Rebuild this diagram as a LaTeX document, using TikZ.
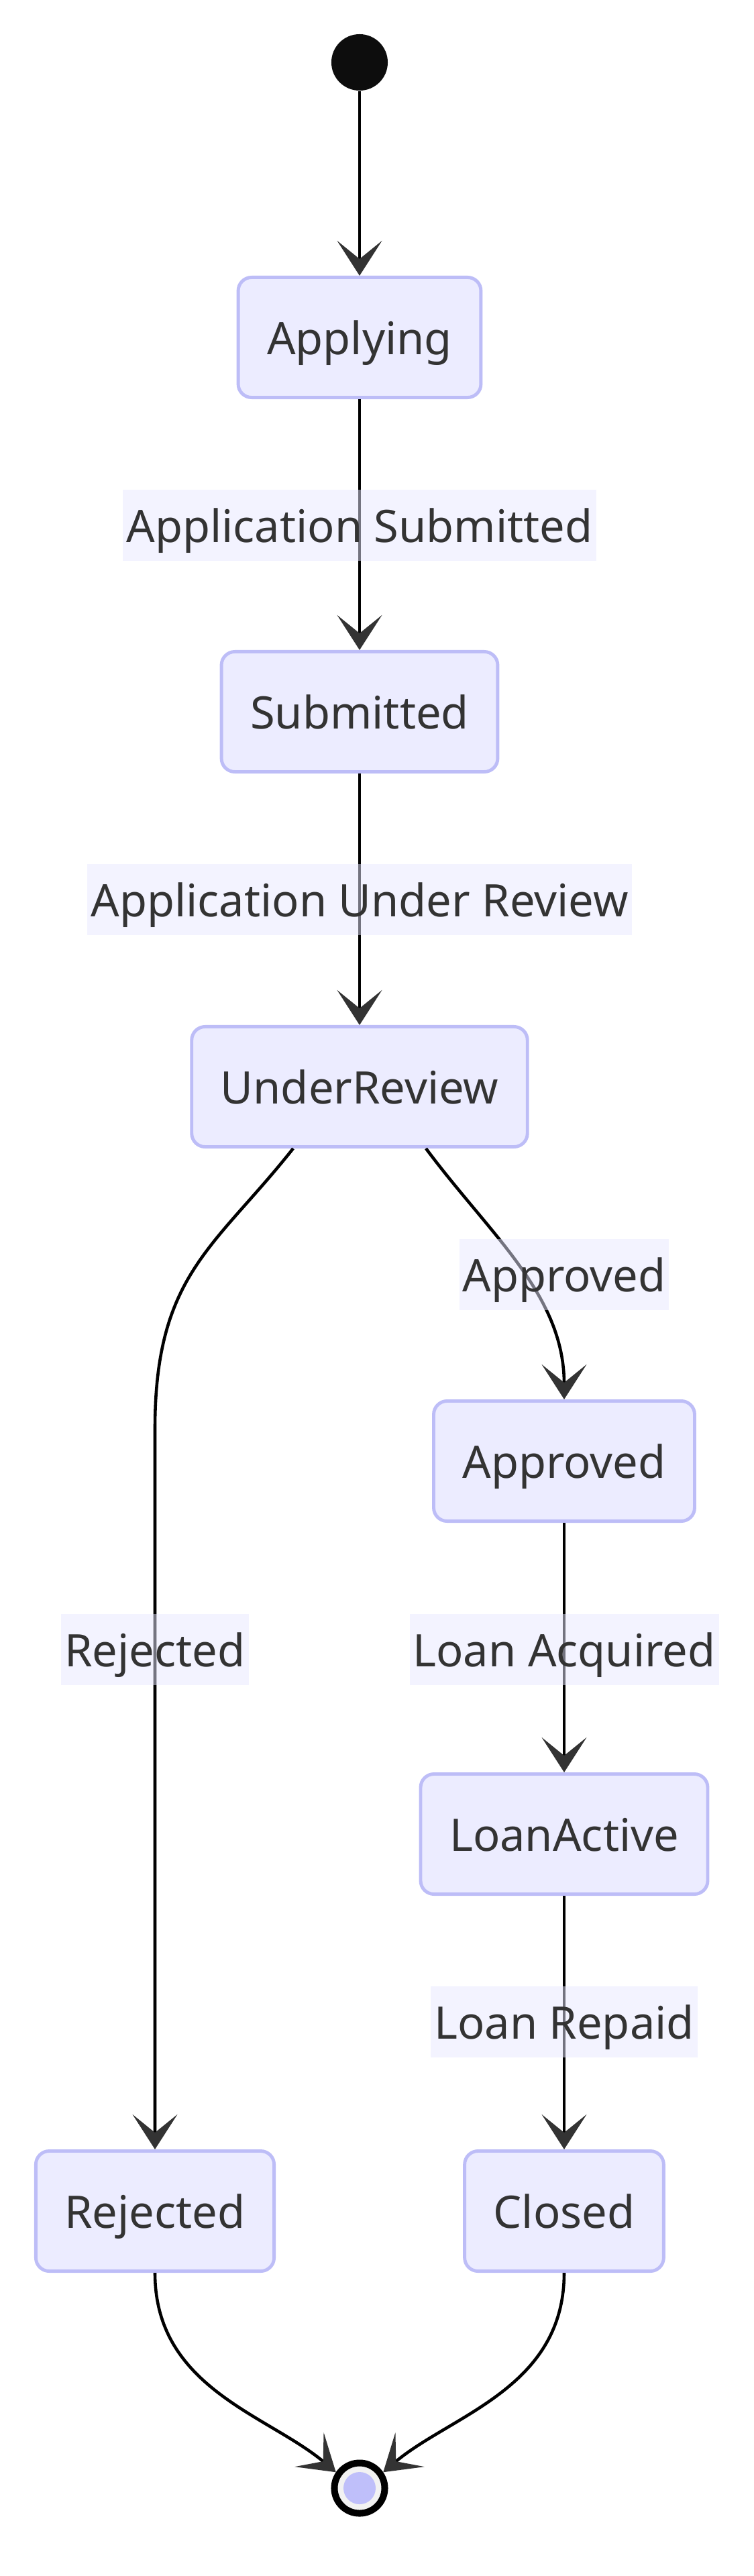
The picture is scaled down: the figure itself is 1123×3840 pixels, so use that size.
\documentclass[tikz,border=0pt]{standalone}
\usepackage{fontspec}
\setmainfont{Noto Sans}
\usetikzlibrary{arrows.meta,calc}
\definecolor{statefill}{HTML}{ECECFF}
\definecolor{stateline}{HTML}{BDBDF7}
\definecolor{inktext}{HTML}{333333}
\definecolor{tipink}{HTML}{333333}
\definecolor{labelfill}{HTML}{E8E8FF}
\definecolor{endfill}{HTML}{F2F2F2}
\definecolor{endcore}{HTML}{BFBFFA}
\definecolor{startfill}{HTML}{0D0D0D}
\tikzset{
  state/.style={draw=stateline, fill=statefill, line width=1.4pt, rounded corners=5.7pt,
    minimum height=1.79cm, inner xsep=0.43cm, text=inktext, font=\fontsize{19}{23}\selectfont,
    text height=19pt, text depth=4.6pt},
  trans/.style={line width=1.3pt, -{Stealth[length=14.8pt,width=19pt,inset=7.7pt,color=tipink]}},
  edgelabel/.style={fill=labelfill, fill opacity=.5, text opacity=1, text=inktext,
    inner xsep=.05cm, minimum height=.96cm, font=\fontsize{19}{23}\selectfont,
    text height=19pt, text depth=4.6pt}
}

\begin{document}
\begin{tikzpicture}[x=0.01cm,y=-0.01cm]
  \useasboundingbox (0,0) rectangle (1123,3840);
  % states
  \node[circle, fill=startfill, minimum size=.84cm, inner sep=0] (start) at (536,93) {};
  \node[state] (applying) at (536,503) {Applying};
  \node[state] (submitted) at (536,1061) {Submitted};
  \node[state] (review) at (536,1620) {UnderReview};
  \node[state] (approved) at (841,2178) {Approved};
  \node[state] (loan) at (841,2734) {LoanActive};
  \node[state] (rejected) at (231,3296) {Rejected};
  \node[state] (closed) at (841,3296) {Closed};
  \node[circle, draw=black, line width=2.85pt, fill=endfill, minimum size=.75cm, inner sep=0] (fin) at (536,3709) {};
  \node[circle, fill=endcore, minimum size=.48cm, inner sep=0] (fincore) at (fin) {};
  % transitions
  \draw[trans] (start) -- (applying);
  \draw[trans] (applying) -- (submitted);
  \draw[trans] (submitted) -- (review);
  \draw[trans] ($(review.south)+(-99,0)$) .. controls (320,1860) and (231,1900) .. (231,2130) -- (rejected);
  \draw[trans] ($(review.south)+(99,0)$) .. controls (730,1840) and (841,1930) .. (approved);
  \draw[trans] (approved) -- (loan);
  \draw[trans] (loan) -- (closed);
  \draw[trans] (rejected) .. controls (231,3560) and (400,3600) .. (fin.146);
  \draw[trans] (closed) .. controls (841,3560) and (672,3600) .. (fin.34);
  % labels
  \node[edgelabel] (lblsubmit) at (536,783) {Application Submitted};
  \node[edgelabel] (lblreview) at (536,1341) {Application Under Review};
  \node[edgelabel] (lblapprove) at (841,1900) {Approved};
  \node[edgelabel] (lblreject) at (231,2459) {Rejected};
  \node[edgelabel] (lblacquire) at (841,2459) {Loan Acquired};
  \node[edgelabel] (lblrepaid) at (841,3014) {Loan Repaid};
\end{tikzpicture}
\end{document}
